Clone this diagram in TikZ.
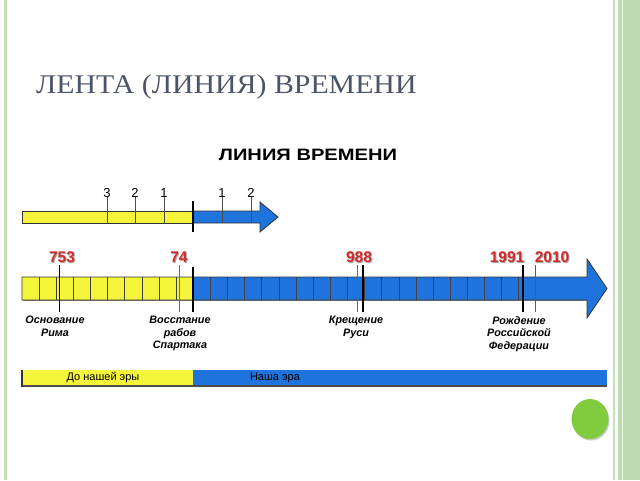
\documentclass[tikz,border=0pt]{standalone}
\usepackage{fontspec}
\setmainfont{Liberation Sans}
\newfontfamily\titlefont{Liberation Serif}
\usetikzlibrary{shadows}
\definecolor{frameg}{HTML}{C3E2BC}
\definecolor{bandg}{HTML}{BCDBAE}
\definecolor{titlec}{HTML}{4A5568}
\definecolor{ylw}{HTML}{F5F53C}
\definecolor{blu}{HTML}{1F73DD}
\definecolor{redn}{HTML}{D42A2A}
\definecolor{ball}{HTML}{80CC3E}
\tikzset{
  yearlbl/.style={font=\fontsize{15.5}{15.5}\selectfont\bfseries, text=redn, inner sep=0pt},
  yearshadow/.style={font=\fontsize{15.5}{15.5}\selectfont\bfseries, text=black!35, inner sep=0pt},
  evlbl/.style={font=\fontsize{10.8}{12.5}\selectfont\bfseries\itshape, align=center, inner sep=0pt, anchor=north},
  numlbl/.style={font=\fontsize{13}{13}\selectfont, inner sep=0pt},
  cellline/.style={draw=black!75, line width=0.7pt},
  outline/.style={draw=black!80, line width=0.8pt},
  tickthin/.style={draw=black!60, line width=0.6pt},
  tickmark/.style={draw=black, line width=1.1pt},
  eralbl/.style={font=\fontsize{11}{11}\selectfont, inner sep=0pt}
}
\begin{document}
\begin{tikzpicture}[x=1pt,y=-1pt]
\useasboundingbox (0,0) rectangle (640,480);
\fill[white] (0,0) rectangle (640,480);
% slide frame
\fill[frameg] (4,0) rectangle (7,480);
\fill[frameg] (612.5,0) rectangle (615,480);
\fill[bandg] (618,0) rectangle (640,480);
\draw[white!70!bandg, line width=0.6pt] (622,0) -- (622,480);
% title
\node[anchor=base west, inner sep=0pt, text=titlec, font=\titlefont\fontsize{27}{27}\selectfont] (title) at (36,93) {\scalebox{1.105}[1]{ЛЕНТА (ЛИНИЯ) ВРЕМЕНИ}};
\node[inner sep=0pt, font=\fontsize{16.5}{16.5}\selectfont\bfseries] (sub) at (308,155) {\scalebox{1.22}[1]{ЛИНИЯ ВРЕМЕНИ}};
% small arrow
\fill[ylw] (22,211) rectangle (193,223);
\draw[outline] (22,211) rectangle (193,223);
\draw[outline, fill=blu] (193,211) -- (260,211) -- (260,202) -- (278,217) -- (260,232) -- (260,223) -- (193,223) -- cycle;
\coordinate (s3) at (107,197); \coordinate (s2) at (135,197); \coordinate (s1) at (164,197);
\coordinate (p1) at (222,197); \coordinate (p2) at (251,197);
\foreach \c in {s3,s2,s1,p1,p2} \draw[tickthin, black!70] (\c) -- ++(0,26);
\draw[draw=black, line width=2pt] (193,201) -- (193,232);
\node[numlbl, anchor=south] (n3) at ([yshift=-1]s3) {3};
\node[numlbl, anchor=south] (n2) at ([yshift=-1]s2) {2};
\node[numlbl, anchor=south] (n1) at ([yshift=-1]s1) {1};
\node[numlbl, anchor=south] (m1) at ([yshift=-1]p1) {1};
\node[numlbl, anchor=south] (m2) at ([yshift=-1]p2) {2};
% big arrow
\fill[ylw] (22,277) rectangle (193,300);
\fill[blu] (193,277) -- (587,277) -- (587,259) -- (607,288.5) -- (587,318) -- (587,300) -- (193,300) -- cycle;
\foreach \k in {1,...,29} \draw[cellline] ({22+17.13*\k},277) -- ({22+17.13*\k},300);
\draw[outline] (22,277) -- (587,277) -- (587,259) -- (607,288.5) -- (587,318) -- (587,300) -- (22,300) -- cycle;
\draw[black!60, line width=1.2pt] (22.5,300.6) -- (587,300.6);
% event marks
\coordinate (e753) at (59.3,265);
\coordinate (e74) at (179.3,265);
\coordinate (e0) at (193,267);
\coordinate (e988a) at (357,265);
\coordinate (e988) at (363,265);
\coordinate (e1991) at (523,265);
\coordinate (e2010) at (535,265);
\draw[tickmark] (e753) -- (59.3,312);
\draw[tickthin] (e74) -- (179.3,312);
\draw[draw=black, line width=2pt] (e0) -- (193,312);
\draw[tickthin] (e988a) -- (357,312);
\draw[draw=black, line width=1.8pt] (e988) -- (363,312);
\draw[draw=black, line width=1.6pt] (e1991) -- (523,312);
\draw[draw=redn, line width=0.7pt] (e2010) -- (535,312);
% year labels
\foreach \t/\x/\n in {753/62/y753, 74/179/y74, 988/359/y988, 1991/507/y1991, 2010/552/y2010}{
  \node[yearshadow] at (\x+1,258) {\t};
  \node[yearlbl] (\n) at (\x,257) {\t};
}
% event labels
\node[evlbl] (ev1) at (55,316) {Основание\\Рима};
\node[evlbl] (ev2) at (180,316) {Восстание\\рабов\\Спартака};
\node[evlbl] (ev3) at (356,316) {Крещение\\Руси};
\node[evlbl] (ev4) at (519,316) {Рождение\\Российской\\Федерации};
% era bar
\fill[ylw] (22,370) rectangle (193,386);
\fill[blu] (193,370) rectangle (607,386);
\draw[black!70, line width=1.5pt] (22,386) -- (607,386);
\draw[black!80, line width=2pt] (22,370) -- (22,387);
\node[eralbl] (bc) at (103,378) {До нашей эры};
\node[eralbl] (ad) at (275,378) {Наша эра};
% green ball
\fill[ball, drop shadow={shadow xshift=1pt, shadow yshift=-1.5pt, opacity=0.4}] (590,419) ellipse [x radius=18.5, y radius=20];
\end{tikzpicture}
\end{document}
